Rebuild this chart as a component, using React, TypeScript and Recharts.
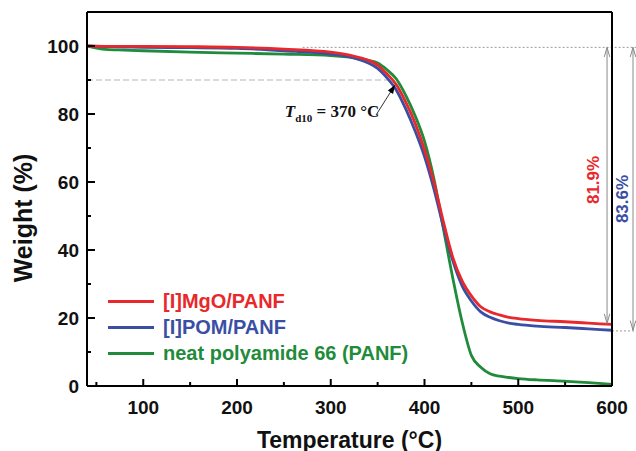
import React from 'react'
import { LineChart, Line, XAxis, YAxis, ReferenceLine, ReferenceDot } from 'recharts'

// temperatures (°C) and weight (%)
const temps = [40, 60, 80, 100, 150, 200, 250, 300, 320, 340, 350, 360, 370, 380, 390, 400, 410, 420, 430, 440, 450, 460, 470, 480, 490, 500, 520, 550, 575, 600]
const mgoPanf = [100, 99.9, 99.9, 99.9, 99.8, 99.6, 99.1, 98.2, 97.3, 95.8, 94.4, 91.8, 88.6, 83.5, 77.3, 69.5, 60.0, 48.5, 38.0, 31.0, 26.5, 23.3, 21.8, 20.9, 20.2, 19.8, 19.3, 18.9, 18.5, 18.1]
const pomPanf = [100, 99.8, 99.7, 99.6, 99.5, 99.3, 98.6, 97.6, 96.8, 95.0, 93.4, 90.6, 87.0, 81.5, 75.0, 67.5, 58.0, 47.0, 37.0, 29.5, 25.0, 21.8, 20.2, 19.2, 18.5, 18.1, 17.6, 17.2, 16.8, 16.4]
const neatPanf = [100, 99.0, 98.8, 98.6, 98.2, 97.9, 97.6, 97.2, 96.7, 95.8, 95.0, 93.0, 90.3, 85.5, 79.5, 72.0, 61.0, 46.5, 32.0, 19.0, 9.0, 5.5, 3.6, 2.9, 2.5, 2.2, 1.8, 1.4, 1.0, 0.5]

const seriesKeys = ['mgo', 'pom', 'neat']
const seriesNames = ['[I]MgO/PANF', '[I]POM/PANF', 'neat polyamide 66 (PANF)']
const seriesColors = ['#e8282b', '#3a4fa3', '#1f8b3b']

const xTicks = [50, 100, 150, 200, 250, 300, 350, 400, 450, 500, 550, 600]
const yTicks = [0, 10, 20, 30, 40, 50, 60, 70, 80, 90, 100, 110]

// annotation values
const td10 = 370
const mgoLoss = '81.9%'
const pomLoss = '83.6%'

const data = temps.map((t, i) => ({ t, mgo: mgoPanf[i], pom: pomPanf[i], neat: neatPanf[i] }))

const sans = "'Liberation Sans', Arial, sans-serif"
const serif = "'Liberation Serif', 'Times New Roman', serif"

const XTick = ({ x, y, payload }: any) => {
  const major = payload.value % 100 === 0
  return (
    <g>
      <line x1={x} x2={x} y1={y} y2={y - (major ? 7 : 4)} stroke="#000" strokeWidth={2} />
      {major && (
        <text x={x} y={y + 28} textAnchor="middle" fontSize={19} fontWeight="bold" fontFamily={sans} fill="#111">
          {payload.value}
        </text>
      )}
    </g>
  )
}

const YTick = ({ x, y, payload }: any) => {
  const v = payload.value
  const major = v % 20 === 0
  return (
    <g>
      {v !== 110 && <line x1={x} x2={x + (major ? 8 : 4)} y1={y} y2={y} stroke="#000" strokeWidth={2} />}
      {major && v <= 100 && (
        <text x={x - 8} y={y + 7} textAnchor="end" fontSize={19} fontWeight="bold" fontFamily={sans} fill="#111">
          {v}
        </text>
      )}
    </g>
  )
}

// line with arrowheads: 'end' = filled head at second point, 'both' = open V heads at both ends
const arrowShape = (mode: 'end' | 'both', color: string) => (p: any) => {
  const { x1, y1, x2, y2 } = p
  const head = (tx: number, ty: number, fx: number, fy: number) => {
    const a = Math.atan2(ty - fy, tx - fx)
    const len = mode === 'end' ? 9 : 10
    const w = mode === 'end' ? 0.35 : 0.28
    const ax = tx - len * Math.cos(a - w)
    const ay = ty - len * Math.sin(a - w)
    const bx = tx - len * Math.cos(a + w)
    const by = ty - len * Math.sin(a + w)
    return mode === 'end'
      ? <polygon points={`${tx},${ty} ${ax},${ay} ${bx},${by}`} fill="#000" />
      : <polyline points={`${ax},${ay} ${tx},${ty} ${bx},${by}`} fill="none" stroke={color} strokeWidth={1} />
  }
  return (
    <g>
      <line x1={x1} y1={y1} x2={x2} y2={y2} stroke={color} strokeWidth={1} />
      {head(x2, y2, x1, y1)}
      {mode === 'both' && head(x1, y1, x2, y2)}
    </g>
  )
}

const rotatedText = (txt: string, color: string) => (p: any) => (
  <text
    x={p.cx}
    y={p.cy}
    transform={`rotate(-90 ${p.cx} ${p.cy})`}
    textAnchor="middle"
    dominantBaseline="central"
    fontSize={17}
    fontWeight="bold"
    fontFamily={sans}
    fill={color}
  >
    {txt}
  </text>
)

const Td10Label = (p: any) => (
  <text x={p.cx} y={p.cy} fontFamily={serif} fontWeight="bold" fontSize={17} fill="#111">
    <tspan fontStyle="italic">T</tspan>
    <tspan fontSize={11} dy={5}>d10</tspan>
    <tspan dy={-5}>{` = ${td10} °C`}</tspan>
  </text>
)

const LegendBox = () => (
  <div style={{ position: 'absolute', left: 108, top: 288, fontFamily: sans, fontWeight: 'bold', fontSize: 20 }}>
    {seriesNames.map((name, i) => (
      <div key={name} style={{ display: 'flex', alignItems: 'center', height: 26 }}>
        <div style={{ width: 46, height: 3, background: seriesColors[i], marginRight: 9 }} />
        <span style={{ color: seriesColors[i], lineHeight: '26px', whiteSpace: 'nowrap' }}>{name}</span>
      </div>
    ))}
  </div>
)

export default function App() {
  return (
    <div style={{ position: 'absolute', left: 0, top: 0, width: 636, height: 451, background: '#fff', overflow: 'hidden' }}>
      <LineChart width={636} height={451} data={data} margin={{ top: 12, right: 24, bottom: 0, left: 0 }}>
        <XAxis
          dataKey="t"
          type="number"
          domain={[40, 600]}
          ticks={xTicks}
          allowDataOverflow
          height={65}
          tickSize={0}
          tickMargin={0}
          tickLine={false}
          tick={<XTick />}
          axisLine={{ stroke: '#000', strokeWidth: 2 }}
          label={{
            content: (p: any) => (
              <text
                x={p.viewBox.x + p.viewBox.width / 2}
                y={p.viewBox.y + 62}
                textAnchor="middle"
                fontSize={23}
                fontWeight="bold"
                fontFamily={sans}
                fill="#111"
              >
                Temperature (°C)
              </text>
            ),
          }}
        />
        <YAxis
          type="number"
          domain={[0, 110]}
          ticks={yTicks}
          allowDataOverflow
          width={87}
          tickSize={0}
          tickMargin={0}
          tickLine={false}
          tick={<YTick />}
          axisLine={{ stroke: '#000', strokeWidth: 2 }}
          label={{
            content: (p: any) => {
              const cx = p.viewBox.x + 23
              const cy = p.viewBox.y + p.viewBox.height / 2 + 19
              return (
                <text
                  x={cx}
                  y={cy}
                  transform={`rotate(-90 ${cx} ${cy})`}
                  textAnchor="middle"
                  dominantBaseline="central"
                  fontSize={25}
                  fontWeight="bold"
                  fontFamily={sans}
                  fill="#111"
                >
                  Weight (%)
                </text>
              )
            },
          }}
        />

        {/* guide lines */}
        <ReferenceLine
          segment={[{ x: 40, y: 90 }, { x: 366, y: 90 }]}
          stroke="#b5b5b5"
          strokeDasharray="6 3"
          strokeWidth={1}
        />
        <ReferenceLine
          segment={[{ x: 270, y: 99.6 }, { x: 626, y: 99.6 }]}
          stroke="#9a9a9a"
          strokeDasharray="2 2"
          strokeWidth={1}
          ifOverflow="visible"
        />
        <ReferenceLine
          segment={[{ x: 600, y: 16.2 }, { x: 626, y: 16.2 }]}
          stroke="#9a9a9a"
          strokeDasharray="2 2"
          strokeWidth={1}
          ifOverflow="visible"
        />

        {seriesKeys.slice().reverse().map((k) => {
          const i = seriesKeys.indexOf(k)
          return (
            <Line
              key={k}
              dataKey={k}
              type="monotone"
              stroke={seriesColors[i]}
              strokeWidth={2.8}
              dot={false}
              isAnimationActive={false}
            />
          )
        })}

        {/* frame */}
        <ReferenceLine y={110} stroke="#000" strokeWidth={2} />
        <ReferenceLine x={600} stroke="#000" strokeWidth={2} />

        {/* loss arrows */}
        <ReferenceLine
          segment={[{ x: 594.7, y: 99.6 }, { x: 594.7, y: 18.4 }]}
          ifOverflow="visible"
          shape={arrowShape('both', '#8a8a8a')}
        />
        <ReferenceLine
          segment={[{ x: 622.4, y: 99.6 }, { x: 622.4, y: 16.4 }]}
          ifOverflow="visible"
          shape={arrowShape('both', '#8a8a8a')}
        />
        <ReferenceDot x={580} y={60.6} ifOverflow="visible" shape={rotatedText(mgoLoss, seriesColors[0])} />
        <ReferenceDot x={611} y={55} ifOverflow="visible" shape={rotatedText(pomLoss, seriesColors[1])} />

        {/* Td10 annotation */}
        <ReferenceLine
          segment={[{ x: 348.3, y: 79.7 }, { x: 368.5, y: 88.5 }]}
          shape={arrowShape('end', '#333')}
        />
        <ReferenceDot x={251} y={79.1} ifOverflow="visible" shape={Td10Label} />
      </LineChart>
      <LegendBox />
    </div>
  )
}
